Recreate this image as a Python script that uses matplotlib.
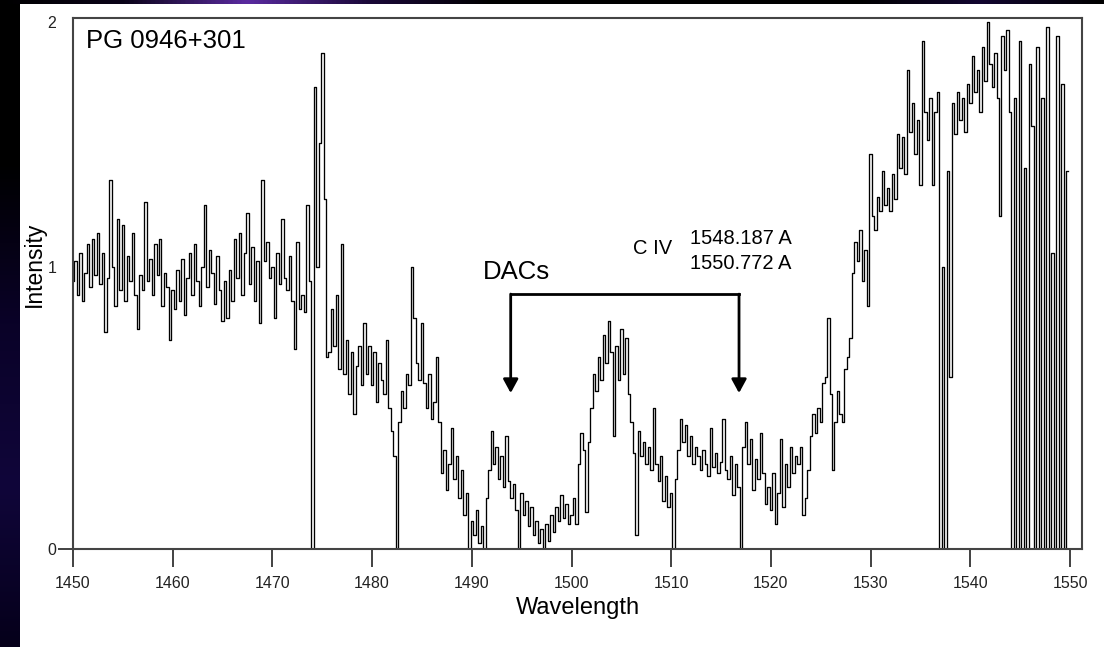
import numpy as np
import matplotlib
matplotlib.use("Agg")
import matplotlib.pyplot as plt
from matplotlib.colors import LinearSegmentedColormap

plt.rcParams['font.family'] = ['Liberation Sans', 'DejaVu Sans']

# ---------------- data (normalised intensity, 0.25 A sampling) ----------------
wl_start = 1450.0
wl_step = 0.25
flux_1450 = [0.95, 1.02, 0.90, 1.05, 0.88, 0.98, 1.08, 0.93, 1.10, 0.97,
             1.12, 0.94, 1.05, 0.77, 0.96, 1.31, 1.00, 0.86, 1.17, 0.92,
             1.15, 0.88, 1.04, 0.95, 1.12, 0.90, 0.78, 0.97, 0.92, 1.23,
             0.95, 1.03, 0.90, 1.08, 0.97, 1.10, 0.86, 0.98, 0.93, 0.74]
flux_1460 = [0.92, 0.85, 0.99, 0.88, 1.03, 0.83, 0.96, 1.05, 0.90, 1.08,
             0.95, 0.86, 1.00, 1.22, 0.93, 1.06, 0.98, 0.87, 1.04, 0.92,
             0.81, 0.95, 0.82, 0.99, 0.88, 1.10, 0.96, 1.12, 0.90, 1.05,
             1.19, 0.94, 1.07, 0.88, 1.02, 0.80, 1.31, 1.02, 1.09, 0.96]
flux_1470 = [1.00, 0.82, 1.05, 0.94, 1.17, 0.96, 0.92, 1.04, 0.88, 0.71,
             1.09, 0.85, 0.90, 0.84, 1.22, 0.95, 0.00, 1.64, 1.00, 1.44,
             1.76, 1.24, 0.68, 0.70, 0.85, 0.72, 0.90, 0.64, 1.08, 0.62,
             0.74, 0.55, 0.70, 0.48, 0.65, 0.72, 0.58, 0.80, 0.62, 0.72]
flux_1480 = [0.58, 0.70, 0.52, 0.66, 0.60, 0.55, 0.74, 0.50, 0.42, 0.33,
             0.00, 0.45, 0.56, 0.50, 0.62, 0.58, 1.00, 0.82, 0.66, 0.60,
             0.80, 0.59, 0.50, 0.62, 0.46, 0.52, 0.68, 0.45, 0.27, 0.35,
             0.21, 0.30, 0.43, 0.25, 0.33, 0.18, 0.28, 0.12, 0.20, 0.00]
flux_1490 = [0.10, 0.05, 0.14, 0.02, 0.08, 0.00, 0.18, 0.28, 0.42, 0.30,
             0.36, 0.25, 0.33, 0.22, 0.40, 0.24, 0.18, 0.23, 0.14, 0.00,
             0.20, 0.12, 0.17, 0.08, 0.15, 0.05, 0.10, 0.02, 0.07, 0.00,
             0.09, 0.03, 0.12, 0.06, 0.15, 0.10, 0.19, 0.11, 0.16, 0.09]
flux_1500 = [0.12, 0.18, 0.09, 0.30, 0.41, 0.35, 0.13, 0.38, 0.50, 0.62,
             0.56, 0.68, 0.60, 0.76, 0.66, 0.81, 0.70, 0.40, 0.72, 0.60,
             0.78, 0.62, 0.75, 0.55, 0.45, 0.34, 0.05, 0.42, 0.33, 0.38,
             0.30, 0.36, 0.28, 0.50, 0.30, 0.24, 0.33, 0.17, 0.26, 0.15]
flux_1510 = [0.20, 0.00, 0.25, 0.35, 0.46, 0.38, 0.44, 0.33, 0.40, 0.30,
             0.36, 0.33, 0.28, 0.35, 0.30, 0.26, 0.43, 0.29, 0.34, 0.27,
             0.31, 0.46, 0.28, 0.25, 0.33, 0.19, 0.30, 0.22, 0.00, 0.36,
             0.45, 0.30, 0.39, 0.21, 0.32, 0.25, 0.41, 0.27, 0.16, 0.22]
flux_1520 = [0.14, 0.27, 0.09, 0.20, 0.39, 0.15, 0.30, 0.22, 0.36, 0.27,
             0.33, 0.30, 0.36, 0.12, 0.18, 0.28, 0.40, 0.48, 0.41, 0.50,
             0.45, 0.59, 0.61, 0.82, 0.55, 0.28, 0.45, 0.56, 0.48, 0.45,
             0.64, 0.68, 0.75, 0.98, 1.09, 1.02, 1.13, 0.95, 1.06, 0.86]
flux_1530 = [1.40, 1.18, 1.13, 1.25, 1.20, 1.34, 1.22, 1.28, 1.20, 1.33,
             1.24, 1.47, 1.35, 1.46, 1.33, 1.70, 1.48, 1.58, 1.40, 1.52,
             1.29, 1.80, 1.55, 1.45, 1.60, 1.29, 1.55, 1.62, 0.00, 1.00,
             0.00, 1.34, 0.61, 1.58, 1.47, 1.62, 1.52, 1.60, 1.48, 1.65]
flux_1540 = [1.58, 1.75, 1.62, 1.70, 1.55, 1.78, 1.66, 1.87, 1.72, 1.64,
             1.76, 1.60, 1.18, 1.82, 1.70, 1.84, 1.55, 0.00, 1.60, 0.00,
             1.80, 0.00, 1.35, 0.00, 1.72, 1.50, 0.00, 1.78, 0.00, 1.60,
             0.00, 1.85, 0.00, 1.05, 0.00, 1.82, 0.00, 1.65, 0.00, 1.34]

xticks = [1450, 1460, 1470, 1480, 1490, 1500, 1510, 1520, 1530, 1540, 1550]
ytick_pos = [0, 1, 1.87]
ytick_labels = ['0', '1', '2']

# annotation anchors
dac_wl = [1493.9, 1516.8]
bracket_top = 0.904
arrow_tip = 0.553

intensity = np.array(flux_1450 + flux_1460 + flux_1470 + flux_1480 + flux_1490 +
                     flux_1500 + flux_1510 + flux_1520 + flux_1530 + flux_1540)
wavelength = wl_start + wl_step * np.arange(len(intensity))

# ---------------- figure ----------------
W, H = 1104, 647
fig = plt.figure(figsize=(W / 100, H / 100), dpi=100, facecolor='white')

# dark slide border (left strip and top strip)
left = fig.add_axes([0, 0, 20 / W, 1])
grad = np.linspace(0, 1, 256).reshape(-1, 1)
cm_left = LinearSegmentedColormap.from_list('l', ['#000000', '#000000', '#0a0228', '#10063a', '#05001a'])
left.imshow(grad, aspect='auto', cmap=cm_left)
left.set_axis_off()

top = fig.add_axes([0, 1 - 4 / H, 1, 4 / H])
gx = np.linspace(0, 1, 512).reshape(1, -1)
cm_top = LinearSegmentedColormap.from_list('t', ['#000000', '#0a0318', '#5a2aa0', '#1a0838', '#000000',
                                                   '#000000', '#000000', '#000000', '#120630', '#000000'])
top.imshow(gx, aspect='auto', cmap=cm_top)
top.set_axis_off()

ax = fig.add_axes([73 / W, (H - 549) / H, (1082 - 73) / W, (549 - 18) / H])
ax.plot(wavelength, intensity, drawstyle='steps-mid', color='black', lw=0.95)

ax.set_xlim(1450, 1551.2)
ax.set_ylim(0, 1.883)

ax.set_xticks(xticks)
ax.set_yticks(ytick_pos)
ax.set_yticklabels(ytick_labels)
ax.tick_params(axis='x', direction='out', length=13, width=1.3, pad=6.5,
               labelsize=11.5, color='#333333', labelcolor='#222222')
ax.tick_params(axis='y', direction='out', length=11, width=1.3, pad=1,
               labelsize=11.5, color='#333333', labelcolor='#222222')
for t in ax.yaxis.get_major_ticks()[1:]:
    t.tick1line.set_visible(False)
for s in ax.spines.values():
    s.set_color('#444444')
    s.set_linewidth(1.5)

ax.set_xlabel('Wavelength', fontsize=17)
ax.xaxis.label.set_va('center')
ax.xaxis.set_label_coords(0.5, (549 - 608) / 531)
ax.set_ylabel('Intensity', fontsize=16.5)
ax.yaxis.label.set_va('center')
ax.yaxis.set_label_coords((34 - 73) / 1009, (549 - 264) / 531)

# texts
fig.text(86 / W, 1 - 48 / H, 'PG 0946+301', fontsize=18.5, va='baseline', ha='left')
fig.text(516 / W, 1 - 279 / H, 'DACs', fontsize=18.5, va='baseline', ha='center')
fig.text(633 / W, 1 - 254 / H, 'C IV', fontsize=14.5, va='baseline', ha='left')
fig.text(690 / W, 1 - 244 / H, '1548.187 A', fontsize=14.5, va='baseline', ha='left')
fig.text(690 / W, 1 - 269 / H, '1550.772 A', fontsize=14.5, va='baseline', ha='left')

# DAC bracket with arrows
ax.plot(dac_wl, [bracket_top, bracket_top], color='black', lw=2, solid_capstyle='projecting')
for w in dac_wl:
    ax.annotate('', xy=(w, arrow_tip), xytext=(w, bracket_top),
                arrowprops=dict(arrowstyle='-|>,head_length=0.55,head_width=0.3',
                                mutation_scale=15, lw=2, color='black',
                                shrinkA=0, shrinkB=0))

fig.savefig('out.png', dpi=100, facecolor='white')
